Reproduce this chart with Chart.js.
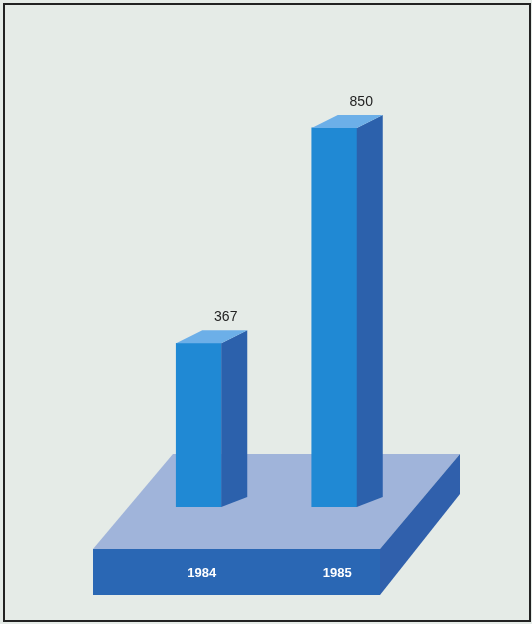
<!DOCTYPE html>
<html>
<head>
<meta charset="utf-8">
<script src="https://cdn.jsdelivr.net/npm/chart.js@4"></script>
<style>
  html, body { margin: 0; padding: 0; background: #fff; }
  canvas { display: block; }
</style>
</head>
<body>
<canvas id="myChart" width="532" height="624"></canvas>
<script>
const anni = ['1984', '1985'];
const valori = [367, 850];

// colori
const sfondo = 'rgb(229,235,231)';
const bluFronte = 'rgb(32,137,212)';
const bluLato = 'rgb(44,97,172)';
const bluSopra = 'rgb(108,175,232)';
const baseSopra = 'rgb(160,180,218)';
const baseFronte = 'rgb(42,103,180)';
const baseLato = 'rgb(48,96,172)';

const DX = 26, DY = -13; // profondita 3d

function poligono(ctx, punti, colore) {
  ctx.beginPath();
  ctx.moveTo(punti[0][0], punti[0][1]);
  for (let i = 1; i < punti.length; i++) ctx.lineTo(punti[i][0], punti[i][1]);
  ctx.closePath();
  ctx.fillStyle = colore;
  ctx.fill();
}

const sfondoPlugin = {
  id: 'sfondo',
  beforeDraw(chart) {
    const ctx = chart.ctx;
    ctx.save();
    ctx.fillStyle = sfondo;
    ctx.fillRect(0, 0, chart.width, chart.height);
    ctx.strokeStyle = '#222';
    ctx.lineWidth = 2;
    ctx.strokeRect(4, 4, chart.width - 6, chart.height - 7);
    ctx.restore();
  },
  beforeDatasetsDraw(chart) {
    // piattaforma
    const ctx = chart.ctx;
    const zero = chart.scales.y.getPixelForValue(0);
    const area = chart.chartArea;
    const l = area.left - 38, r = area.right - 22;
    const fy = zero + 42, h = 46;
    const bx = 80, by = -95;
    ctx.save();
    poligono(ctx, [[l, fy], [r, fy], [r + bx, fy + by], [l + bx, fy + by]], baseSopra);
    poligono(ctx, [[l, fy], [r, fy], [r, fy + h], [l, fy + h]], baseFronte);
    poligono(ctx, [[r, fy], [r + bx, fy + by], [r + bx, fy + by + 40], [r, fy + h]], baseLato);
    ctx.fillStyle = '#fff';
    ctx.font = 'bold 13px "Liberation Sans", Arial, sans-serif';
    ctx.textAlign = 'center';
    ctx.textBaseline = 'middle';
    chart.getDatasetMeta(0).data.forEach((bar, i) => {
      ctx.fillText(anni[i], bar.x + 3, fy + 24);
    });
    ctx.restore();
  },
  afterDatasetsDraw(chart) {
    const ctx = chart.ctx;
    ctx.save();
    chart.getDatasetMeta(0).data.forEach((bar, i) => {
      const l = bar.x - bar.width / 2, r = bar.x + bar.width / 2;
      const t = bar.y, b = bar.base;
      poligono(ctx, [[r, t], [r + DX, t + DY], [r + DX, b + DY + 3], [r, b]], bluLato);
      poligono(ctx, [[l, t], [r, t], [r + DX, t + DY], [l + DX, t + DY]], bluSopra);
      ctx.fillStyle = '#222';
      ctx.font = '14px "Liberation Sans", Arial, sans-serif';
      ctx.textAlign = 'center';
      ctx.textBaseline = 'middle';
      ctx.fillText(valori[i], bar.x + 27, t - 26);
    });
    ctx.restore();
  }
};

const ctx = document.getElementById('myChart');

new Chart(ctx, {
  type: 'bar',
  data: {
    labels: anni,
    datasets: [{
      data: valori,
      backgroundColor: bluFronte,
      borderWidth: 0,
      barThickness: 45
    }]
  },
  options: {
    responsive: false,
    animation: false,
    layout: { padding: { left: 131, right: 130, top: 61, bottom: 117 } },
    plugins: { legend: { display: false }, tooltip: { enabled: false } },
    scales: {
      x: { display: false },
      y: { display: false, min: 0, max: 1000 }
    }
  },
  plugins: [sfondoPlugin]
});
</script>
</body>
</html>
